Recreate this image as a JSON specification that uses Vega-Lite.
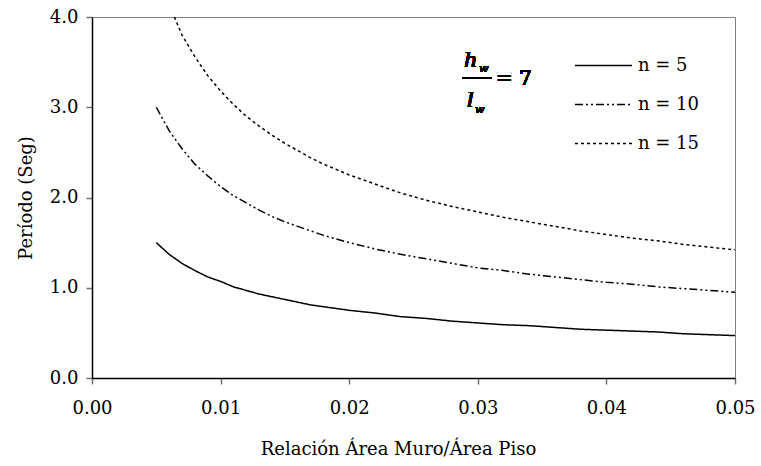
{
  "$schema": "https://vega.github.io/schema/vega-lite/v6.json",
  "width": 643,
  "height": 361,
  "autosize": "none",
  "padding": {"left": 92, "top": 17, "right": 26, "bottom": 88},
  "background": "white",
  "config": {
    "view": {"stroke": "#808080", "strokeWidth": 1},
    "font": "DejaVu Serif",
    "axis": {
      "grid": false,
      "domainColor": "black",
      "domainWidth": 1.5,
      "tickColor": "#707070",
      "tickWidth": 1.5,
      "tickSize": 6,
      "labelFont": "DejaVu Serif",
      "labelFontSize": 18,
      "labelColor": "black",
      "titleFont": "DejaVu Serif",
      "titleFontSize": 18,
      "titleFontWeight": "normal",
      "titleColor": "black"
    }
  },
  "data": {
    "values": [
      {"ratio": 0.005, "T": 1.50, "serie": "n = 5"},
      {"ratio": 0.006, "T": 1.37, "serie": "n = 5"},
      {"ratio": 0.007, "T": 1.27, "serie": "n = 5"},
      {"ratio": 0.008, "T": 1.19, "serie": "n = 5"},
      {"ratio": 0.009, "T": 1.12, "serie": "n = 5"},
      {"ratio": 0.010, "T": 1.07, "serie": "n = 5"},
      {"ratio": 0.011, "T": 1.01, "serie": "n = 5"},
      {"ratio": 0.012, "T": 0.97, "serie": "n = 5"},
      {"ratio": 0.013, "T": 0.93, "serie": "n = 5"},
      {"ratio": 0.014, "T": 0.90, "serie": "n = 5"},
      {"ratio": 0.015, "T": 0.87, "serie": "n = 5"},
      {"ratio": 0.016, "T": 0.84, "serie": "n = 5"},
      {"ratio": 0.017, "T": 0.81, "serie": "n = 5"},
      {"ratio": 0.018, "T": 0.79, "serie": "n = 5"},
      {"ratio": 0.019, "T": 0.77, "serie": "n = 5"},
      {"ratio": 0.020, "T": 0.75, "serie": "n = 5"},
      {"ratio": 0.022, "T": 0.72, "serie": "n = 5"},
      {"ratio": 0.024, "T": 0.68, "serie": "n = 5"},
      {"ratio": 0.026, "T": 0.66, "serie": "n = 5"},
      {"ratio": 0.028, "T": 0.63, "serie": "n = 5"},
      {"ratio": 0.030, "T": 0.61, "serie": "n = 5"},
      {"ratio": 0.032, "T": 0.59, "serie": "n = 5"},
      {"ratio": 0.034, "T": 0.58, "serie": "n = 5"},
      {"ratio": 0.036, "T": 0.56, "serie": "n = 5"},
      {"ratio": 0.038, "T": 0.54, "serie": "n = 5"},
      {"ratio": 0.040, "T": 0.53, "serie": "n = 5"},
      {"ratio": 0.042, "T": 0.52, "serie": "n = 5"},
      {"ratio": 0.044, "T": 0.51, "serie": "n = 5"},
      {"ratio": 0.046, "T": 0.49, "serie": "n = 5"},
      {"ratio": 0.048, "T": 0.48, "serie": "n = 5"},
      {"ratio": 0.050, "T": 0.47, "serie": "n = 5"},
      {"ratio": 0.005, "T": 3.00, "serie": "n = 10"},
      {"ratio": 0.006, "T": 2.74, "serie": "n = 10"},
      {"ratio": 0.007, "T": 2.54, "serie": "n = 10"},
      {"ratio": 0.008, "T": 2.37, "serie": "n = 10"},
      {"ratio": 0.009, "T": 2.24, "serie": "n = 10"},
      {"ratio": 0.010, "T": 2.12, "serie": "n = 10"},
      {"ratio": 0.011, "T": 2.02, "serie": "n = 10"},
      {"ratio": 0.012, "T": 1.94, "serie": "n = 10"},
      {"ratio": 0.013, "T": 1.86, "serie": "n = 10"},
      {"ratio": 0.014, "T": 1.79, "serie": "n = 10"},
      {"ratio": 0.015, "T": 1.73, "serie": "n = 10"},
      {"ratio": 0.016, "T": 1.68, "serie": "n = 10"},
      {"ratio": 0.017, "T": 1.63, "serie": "n = 10"},
      {"ratio": 0.018, "T": 1.58, "serie": "n = 10"},
      {"ratio": 0.019, "T": 1.54, "serie": "n = 10"},
      {"ratio": 0.020, "T": 1.50, "serie": "n = 10"},
      {"ratio": 0.022, "T": 1.43, "serie": "n = 10"},
      {"ratio": 0.024, "T": 1.37, "serie": "n = 10"},
      {"ratio": 0.026, "T": 1.32, "serie": "n = 10"},
      {"ratio": 0.028, "T": 1.27, "serie": "n = 10"},
      {"ratio": 0.030, "T": 1.22, "serie": "n = 10"},
      {"ratio": 0.032, "T": 1.19, "serie": "n = 10"},
      {"ratio": 0.034, "T": 1.15, "serie": "n = 10"},
      {"ratio": 0.036, "T": 1.12, "serie": "n = 10"},
      {"ratio": 0.038, "T": 1.09, "serie": "n = 10"},
      {"ratio": 0.040, "T": 1.06, "serie": "n = 10"},
      {"ratio": 0.042, "T": 1.04, "serie": "n = 10"},
      {"ratio": 0.044, "T": 1.01, "serie": "n = 10"},
      {"ratio": 0.046, "T": 0.99, "serie": "n = 10"},
      {"ratio": 0.048, "T": 0.97, "serie": "n = 10"},
      {"ratio": 0.050, "T": 0.95, "serie": "n = 10"},
      {"ratio": 0.0064, "T": 4.00, "serie": "n = 15"},
      {"ratio": 0.007, "T": 3.80, "serie": "n = 15"},
      {"ratio": 0.008, "T": 3.56, "serie": "n = 15"},
      {"ratio": 0.009, "T": 3.35, "serie": "n = 15"},
      {"ratio": 0.010, "T": 3.18, "serie": "n = 15"},
      {"ratio": 0.011, "T": 3.03, "serie": "n = 15"},
      {"ratio": 0.012, "T": 2.90, "serie": "n = 15"},
      {"ratio": 0.013, "T": 2.79, "serie": "n = 15"},
      {"ratio": 0.014, "T": 2.69, "serie": "n = 15"},
      {"ratio": 0.015, "T": 2.60, "serie": "n = 15"},
      {"ratio": 0.016, "T": 2.52, "serie": "n = 15"},
      {"ratio": 0.017, "T": 2.44, "serie": "n = 15"},
      {"ratio": 0.018, "T": 2.37, "serie": "n = 15"},
      {"ratio": 0.019, "T": 2.31, "serie": "n = 15"},
      {"ratio": 0.020, "T": 2.25, "serie": "n = 15"},
      {"ratio": 0.022, "T": 2.15, "serie": "n = 15"},
      {"ratio": 0.024, "T": 2.05, "serie": "n = 15"},
      {"ratio": 0.026, "T": 1.97, "serie": "n = 15"},
      {"ratio": 0.028, "T": 1.90, "serie": "n = 15"},
      {"ratio": 0.030, "T": 1.84, "serie": "n = 15"},
      {"ratio": 0.032, "T": 1.78, "serie": "n = 15"},
      {"ratio": 0.034, "T": 1.73, "serie": "n = 15"},
      {"ratio": 0.036, "T": 1.68, "serie": "n = 15"},
      {"ratio": 0.038, "T": 1.63, "serie": "n = 15"},
      {"ratio": 0.040, "T": 1.59, "serie": "n = 15"},
      {"ratio": 0.042, "T": 1.55, "serie": "n = 15"},
      {"ratio": 0.044, "T": 1.52, "serie": "n = 15"},
      {"ratio": 0.046, "T": 1.48, "serie": "n = 15"},
      {"ratio": 0.048, "T": 1.45, "serie": "n = 15"},
      {"ratio": 0.050, "T": 1.42, "serie": "n = 15"}
    ]
  },
  "layer": [
    {
      "mark": {"type": "line", "color": "black", "strokeWidth": 1.5, "clip": true},
      "encoding": {
        "x": {
          "field": "ratio",
          "type": "quantitative",
          "scale": {"domain": [0, 0.05], "nice": false},
          "axis": {
            "title": "Relación Área Muro/Área Piso",
            "values": [0, 0.01, 0.02, 0.03, 0.04, 0.05],
            "format": ".2f",
            "labelPadding": 15,
            "titlePadding": 23,
            "titleX": 306,
            "labelFlush": false
          }
        },
        "y": {
          "field": "T",
          "type": "quantitative",
          "scale": {"domain": [0, 4], "nice": false},
          "axis": {
            "title": "Período (Seg)",
            "values": [0, 1, 2, 3, 4],
            "format": ".1f",
            "labelPadding": 8,
            "titlePadding": 14,
            "labelFlush": false
          }
        },
        "strokeDash": {
          "field": "serie",
          "type": "nominal",
          "sort": ["n = 5", "n = 10", "n = 15"],
          "scale": {
            "domain": ["n = 5", "n = 10", "n = 15"],
            "range": [[1, 0], [8, 3, 2, 3, 2, 3], [3, 3]]
          },
          "legend": {
            "title": null,
            "orient": "none",
            "legendX": 482,
            "legendY": 19,
            "symbolType": "stroke",
            "symbolSize": 3250,
            "symbolStrokeWidth": 1.5,
            "symbolStrokeColor": "black",
            "labelFont": "DejaVu Serif",
            "labelFontSize": 18,
            "labelColor": "black",
            "labelOffset": 5,
            "rowPadding": -5
          }
        }
      }
    },
    {
      "mark": {"type": "text", "font": "DejaVu Serif", "fontStyle": "italic", "fontWeight": "normal", "fontSize": 21, "align": "left", "baseline": "alphabetic", "color": "black"},
      "encoding": {"x": {"datum": 0.02893}, "y": {"datum": 3.444}, "text": {"value": "h"}}
    },
    {
      "mark": {"type": "text", "font": "DejaVu Serif", "fontStyle": "italic", "fontWeight": "normal", "fontSize": 11, "align": "left", "baseline": "alphabetic", "color": "black"},
      "encoding": {"x": {"datum": 0.03009}, "y": {"datum": 3.389}, "text": {"value": "w"}}
    },
    {
      "mark": {"type": "rule", "color": "black", "strokeWidth": 1.2},
      "encoding": {"x": {"datum": 0.02877}, "x2": {"datum": 0.0311}, "y": {"datum": 3.322}}
    },
    {
      "mark": {"type": "text", "font": "DejaVu Serif", "fontWeight": "normal", "fontSize": 20, "align": "left", "baseline": "middle", "color": "black"},
      "encoding": {"x": {"datum": 0.03141}, "y": {"datum": 3.311}, "text": {"value": "= 7"}}
    },
    {
      "mark": {"type": "text", "font": "DejaVu Serif", "fontStyle": "italic", "fontWeight": "normal", "fontSize": 21, "align": "left", "baseline": "alphabetic", "color": "black"},
      "encoding": {"x": {"datum": 0.02916}, "y": {"datum": 3.0}, "text": {"value": "l"}}
    },
    {
      "mark": {"type": "text", "font": "DejaVu Serif", "fontStyle": "italic", "fontWeight": "normal", "fontSize": 11, "align": "left", "baseline": "alphabetic", "color": "black"},
      "encoding": {"x": {"datum": 0.02978}, "y": {"datum": 2.933}, "text": {"value": "w"}}
    }
  ]
}
